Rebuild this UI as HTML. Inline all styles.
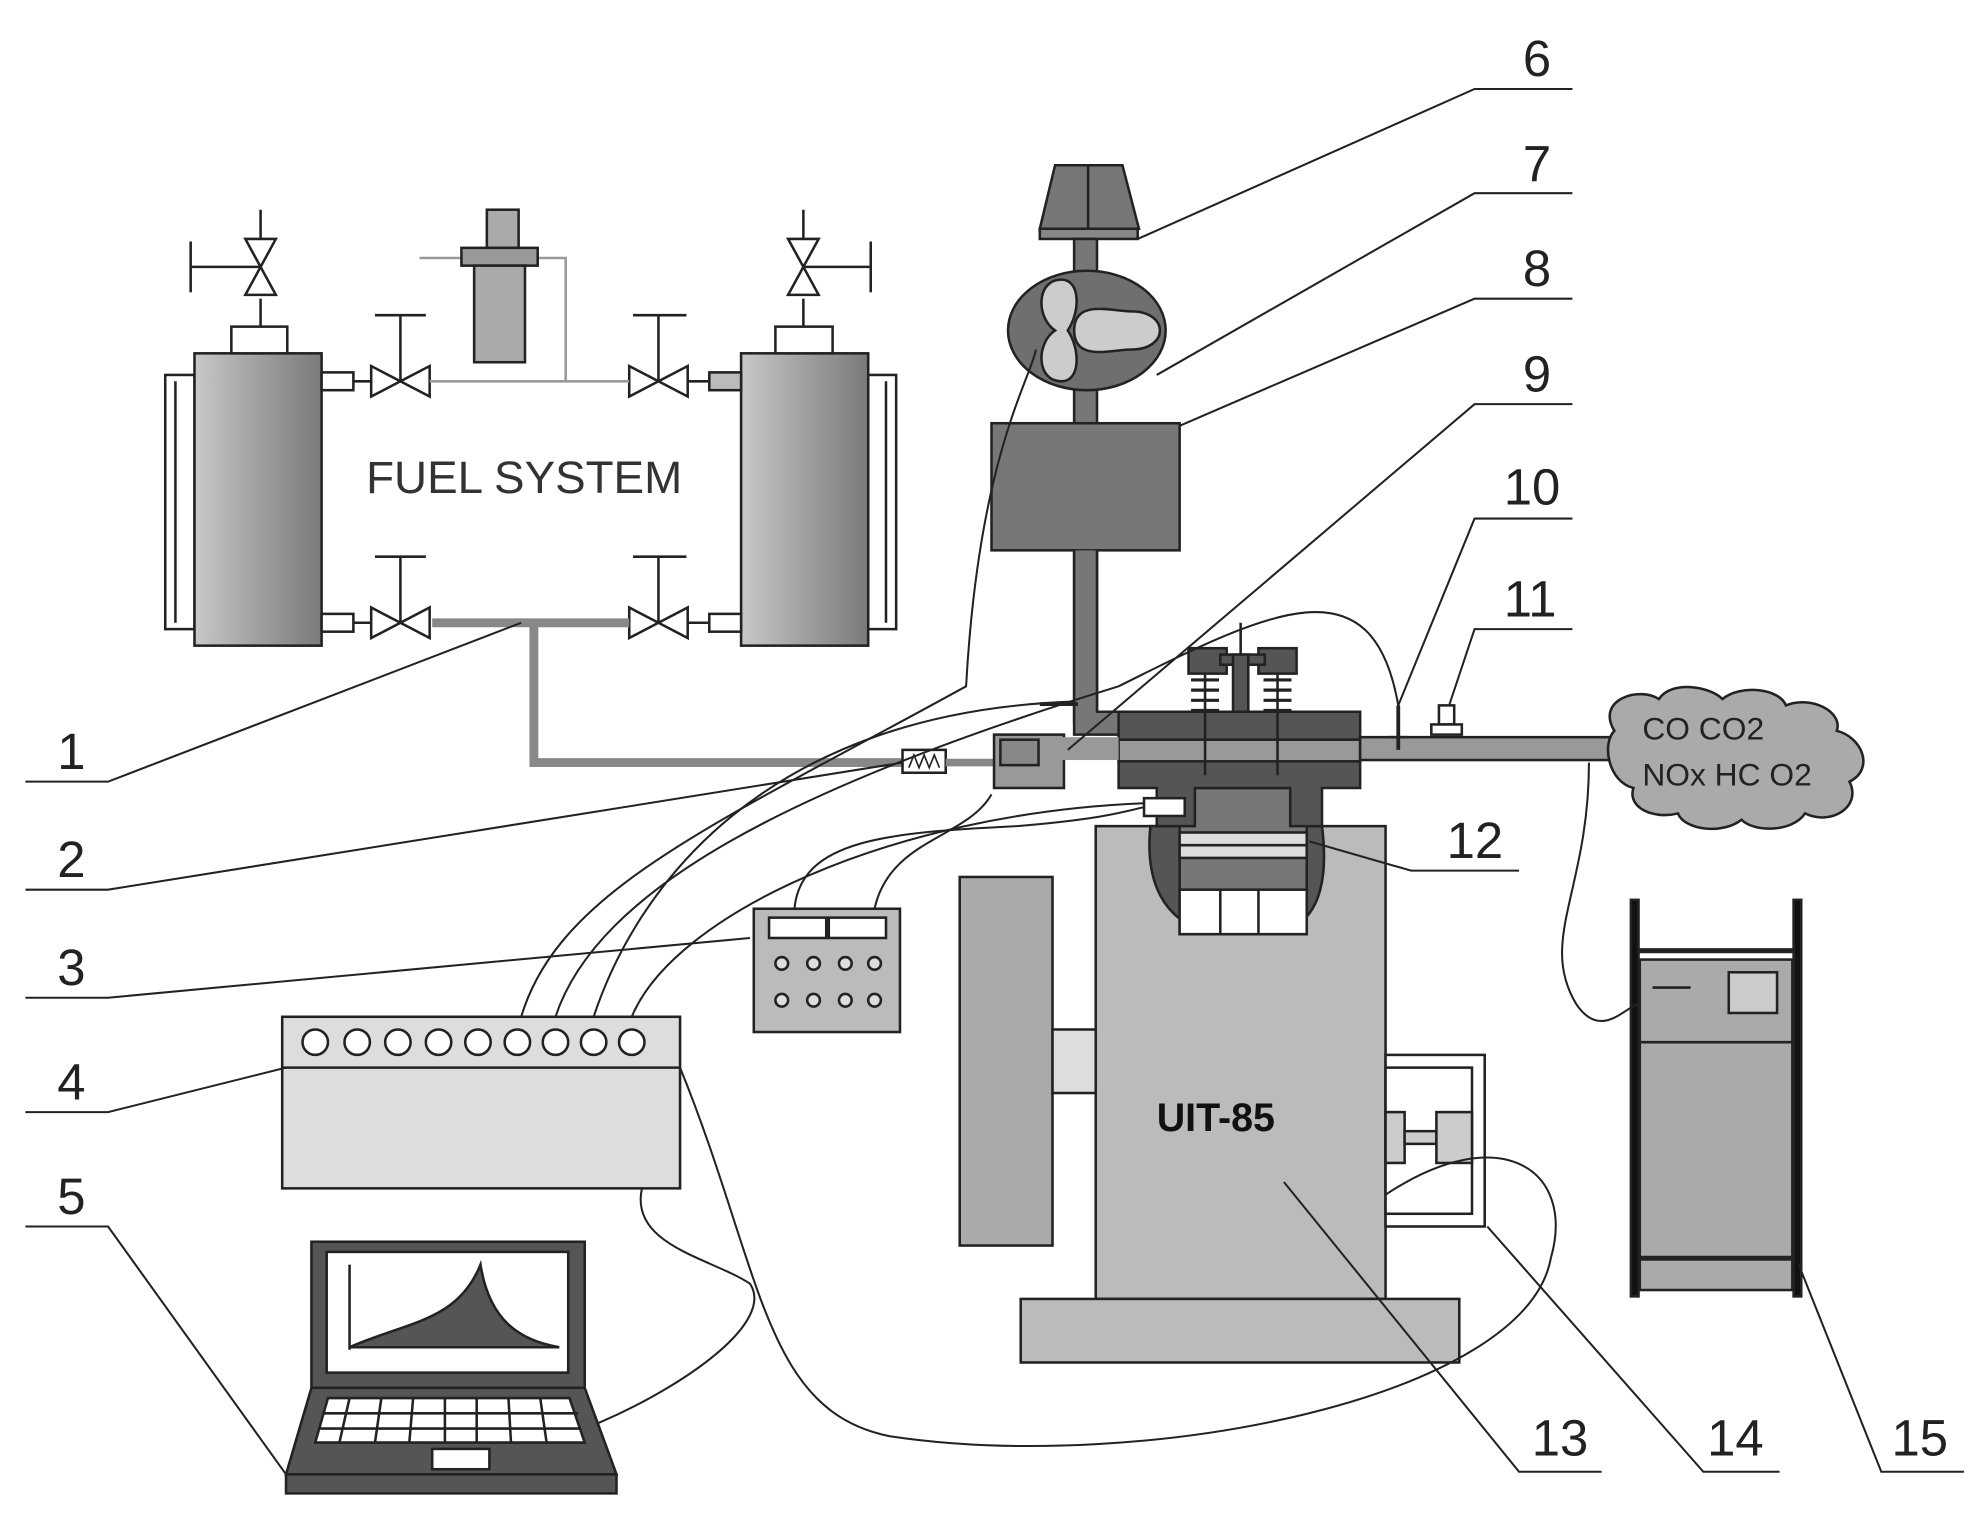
<!DOCTYPE html>
<html><head><meta charset="utf-8"><style>html,body{margin:0;padding:0;background:#fff}svg{display:block}</style></head><body>
<svg width="1983" height="1515" viewBox="0 0 1560 1192" preserveAspectRatio="none" xmlns="http://www.w3.org/2000/svg" font-family="Liberation Sans, sans-serif">
<defs>
<linearGradient id="tk" x1="0" x2="1"><stop offset="0" stop-color="#c8c8c8"/><stop offset="0.5" stop-color="#a0a0a0"/><stop offset="1" stop-color="#7a7a7a"/></linearGradient>
<linearGradient id="tk2" x1="0" x2="1"><stop offset="0" stop-color="#d8d8d8"/><stop offset="1" stop-color="#909090"/></linearGradient>
</defs>
<g stroke="#222" stroke-width="2" fill="none">
<!-- fuel system -->
<rect x="130" y="295" width="23" height="200" fill="#fff"/><line x1="138" y1="300" x2="138" y2="490"/>
<rect x="153" y="278" width="100" height="230" fill="url(#tk)"/>
<rect x="182" y="257" width="44" height="21" fill="#fff"/>
<line x1="205" y1="257" x2="205" y2="235"/>
<path d="M193 188 L217 188 L205 210 Z M193 232 L217 232 L205 210 Z" fill="#fff"/>
<line x1="205" y1="188" x2="205" y2="165"/><line x1="150" y1="210" x2="205" y2="210"/><line x1="150" y1="190" x2="150" y2="230"/>
<rect x="683" y="295" width="22" height="200" fill="#fff"/><line x1="697" y1="300" x2="697" y2="490"/>
<rect x="583" y="278" width="100" height="230" fill="url(#tk)"/>
<rect x="610" y="257" width="45" height="21" fill="#fff"/>
<line x1="632" y1="257" x2="632" y2="235"/>
<path d="M620 188 L644 188 L632 210 Z M620 232 L644 232 L632 210 Z" fill="#fff"/>
<line x1="632" y1="188" x2="632" y2="165"/><line x1="632" y1="210" x2="685" y2="210"/><line x1="685" y1="190" x2="685" y2="230"/>
<rect x="253" y="293" width="25" height="14" fill="#fff"/><rect x="253" y="483" width="25" height="14" fill="#fff"/>
<rect x="558" y="293" width="25" height="14" fill="#bbb"/><rect x="558" y="483" width="25" height="14" fill="#fff"/>
<g fill="#fff">
<path d="M292 288 L292 312 L315 300 Z M338 288 L338 312 L315 300 Z"/><line x1="315" y1="300" x2="315" y2="248"/><line x1="295" y1="248" x2="335" y2="248"/>
<path d="M495 288 L495 312 L518 300 Z M541 288 L541 312 L518 300 Z"/><line x1="518" y1="300" x2="518" y2="248"/><line x1="498" y1="248" x2="540" y2="248"/>
<path d="M292 478 L292 502 L315 490 Z M338 478 L338 502 L315 490 Z"/><line x1="315" y1="490" x2="315" y2="438"/><line x1="295" y1="438" x2="335" y2="438"/>
<path d="M495 478 L495 502 L518 490 Z M541 478 L541 502 L518 490 Z"/><line x1="518" y1="490" x2="518" y2="438"/><line x1="498" y1="438" x2="540" y2="438"/>
</g>
<line x1="278" y1="300" x2="292" y2="300"/><line x1="541" y1="300" x2="558" y2="300"/>
<line x1="278" y1="490" x2="292" y2="490"/><line x1="541" y1="490" x2="558" y2="490"/>
<path d="M338 300 L495 300 M445 300 L445 203 L423 203" stroke="#999"/><line x1="330" y1="203" x2="363" y2="203" stroke="#999"/>
<rect x="383" y="165" width="25" height="30" fill="#aaa"/>
<rect x="363" y="195" width="60" height="14" fill="#999"/>
<rect x="373" y="209" width="40" height="76" fill="#aaa"/>
<path d="M340 490 L495 490 M420 490 L420 600 L712 600" stroke="#888" stroke-width="7"/>
<rect x="710" y="590" width="34" height="18" fill="#fff"/><path d="M715 604 l4 -10 l4 10 l4 -10 l4 10 l4 -10 l4 10" stroke-width="1.3"/>
<line x1="744" y1="600" x2="782" y2="600" stroke="#888" stroke-width="6"/>
</g>
<text x="288" y="388" font-size="36" fill="#333">FUEL SYSTEM</text>
<g stroke="#222" stroke-width="2">
<!-- intake -->
<path d="M830 130 L883 130 L896 180 L818 180 Z" fill="#777"/><rect x="818" y="180" width="77" height="8" fill="#888"/>
<line x1="856" y1="130" x2="856" y2="180"/>
<rect x="845" y="188" width="18" height="380" fill="#777"/>
<ellipse cx="855" cy="260" rx="62" ry="47" fill="#6f6f6f"/>
<path d="M835 220 c-20 0 -20 30 -5 40 c-15 10 -15 40 5 40 c15 0 15 -25 5 -40 c10 -15 10 -40 -5 -40 Z" fill="#ccc"/>
<path d="M845 260 c0 -25 30 -15 45 -15 c30 0 30 30 0 30 c-15 0 -45 10 -45 -15 Z" fill="#ccc"/>
<rect x="780" y="333" width="148" height="100" fill="#777"/>
<path d="M845 433 L845 578 L882 578 L882 560 L863 560 L863 433" fill="#777"/>
<rect x="782" y="578" width="55" height="42" fill="#999"/><rect x="787" y="582" width="30" height="20" fill="#888"/>
<line x1="818" y1="554" x2="848" y2="554" stroke-width="3"/>
<!-- engine -->
<rect x="862" y="650" width="228" height="372" fill="#bbb"/>
<rect x="803" y="1022" width="345" height="50" fill="#bbb"/>
<path d="M905 650 C900 700 920 730 960 735 L1000 735 C1040 730 1045 690 1040 650 Z" fill="#555"/>
<rect x="928" y="620" width="100" height="115" fill="#777"/>
<rect x="928" y="655" width="100" height="20" fill="#ddd"/><line x1="928" y1="665" x2="1028" y2="665"/>
<rect x="928" y="700" width="100" height="35" fill="#fff"/><line x1="960" y1="700" x2="960" y2="735"/><line x1="990" y1="700" x2="990" y2="735"/>
<path d="M880 560 L1070 560 L1070 620 L1040 620 L1040 650 L1015 650 L1015 620 L940 620 L940 650 L910 650 L910 620 L880 620 Z" fill="#555"/>
<rect x="880" y="582" width="190" height="17" fill="#999"/>
<rect x="1070" y="580" width="200" height="18" fill="#999"/>
<rect x="820" y="580" width="60" height="18" fill="#999" stroke="none"/>
<rect x="935" y="510" width="30" height="20" fill="#555"/><rect x="990" y="510" width="30" height="20" fill="#555"/>
<rect x="960" y="515" width="35" height="8" fill="#555"/><rect x="970" y="515" width="12" height="45" fill="#555"/>
<line x1="976" y1="490" x2="976" y2="515"/>
<line x1="948" y1="530" x2="948" y2="610"/><line x1="1005" y1="530" x2="1005" y2="610"/>
<path d="M937 535 h22 M937 543 h22 M937 551 h22 M937 559 h22 M994 535 h22 M994 543 h22 M994 551 h22 M994 559 h22" stroke-width="2.5"/>
<rect x="900" y="628" width="32" height="14" fill="#fff"/>
<rect x="755" y="690" width="73" height="290" fill="#aaa"/>
<rect x="828" y="810" width="34" height="50" fill="#ddd"/>
<rect x="1090" y="830" width="78" height="135" fill="#fff"/><rect x="1090" y="840" width="68" height="115" fill="#fff"/>
<rect x="1090" y="875" width="15" height="40" fill="#ccc"/><rect x="1105" y="890" width="25" height="10" fill="#ccc"/><rect x="1130" y="875" width="28" height="40" fill="#ccc"/>
<line x1="1100" y1="555" x2="1100" y2="590" stroke-width="3"/><line x1="1092" y1="580" x2="1108" y2="580"/>
<rect x="1132" y="555" width="12" height="15" fill="#fff"/><rect x="1126" y="570" width="24" height="8" fill="#fff"/>
<!-- cloud -->
<path d="M1270 575 c-15 -25 20 -35 35 -25 c10 -15 40 -10 50 0 c15 -12 45 -8 50 5 c20 -8 45 5 40 20 c20 5 30 30 10 40 c10 20 -15 35 -35 25 c-10 15 -40 15 -50 5 c-15 12 -45 8 -50 -5 c-20 5 -40 -5 -35 -20 c-20 -5 -25 -35 -15 -45 Z" fill="#aaa"/>
<!-- analyzer -->
<rect x="1290" y="755" width="120" height="260" fill="#aaa"/><line x1="1290" y1="820" x2="1410" y2="820"/>
<rect x="1360" y="765" width="38" height="32" fill="#ccc"/><line x1="1300" y1="777" x2="1330" y2="777"/>
<rect x="1283" y="708" width="6" height="312" fill="#111"/><rect x="1411" y="708" width="6" height="312" fill="#111"/>
<line x1="1289" y1="748" x2="1411" y2="748" stroke-width="4"/><line x1="1289" y1="990" x2="1411" y2="990" stroke-width="4"/>
<!-- box 3 -->
<rect x="593" y="715" width="115" height="97" fill="#bbb"/>
<rect x="605" y="722" width="45" height="16" fill="#fff"/><rect x="652" y="722" width="45" height="16" fill="#fff"/>
<g fill="#ddd"><circle cx="615" cy="758" r="5"/><circle cx="640" cy="758" r="5"/><circle cx="665" cy="758" r="5"/><circle cx="688" cy="758" r="5"/><circle cx="615" cy="787" r="5"/><circle cx="640" cy="787" r="5"/><circle cx="665" cy="787" r="5"/><circle cx="688" cy="787" r="5"/></g>
<!-- box 4 -->
<rect x="222" y="800" width="313" height="135" fill="#ddd"/><line x1="222" y1="840" x2="535" y2="840"/>
<g fill="#fff"><circle cx="248" cy="820" r="10"/><circle cx="281" cy="820" r="10"/><circle cx="313" cy="820" r="10"/><circle cx="345" cy="820" r="10"/><circle cx="376" cy="820" r="10"/><circle cx="407" cy="820" r="10"/><circle cx="437" cy="820" r="10"/><circle cx="467" cy="820" r="10"/><circle cx="497" cy="820" r="10"/></g>
<!-- laptop -->
<rect x="245" y="977" width="215" height="115" fill="#555"/><rect x="257" y="985" width="190" height="95" fill="#fff"/>
<path d="M275 1060 C320 1040 360 1040 378 995 C385 1040 410 1055 440 1060 Z" fill="#555"/>
<line x1="275" y1="995" x2="275" y2="1062"/>
<path d="M245 1092 L460 1092 L485 1160 L225 1160 Z" fill="#555"/>
<rect x="225" y="1160" width="260" height="15" fill="#555"/>
<path d="M258 1100 L448 1100 L460 1135 L248 1135 Z" fill="#fff"/>
<path d="M255 1112 h200 M252 1124 h205 M275 1100 l-8 35 M300 1100 l-5 35 M325 1100 l-3 35 M350 1100 v35 M375 1100 v35 M400 1100 l2 35 M425 1100 l5 35" />
<rect x="340" y="1140" width="45" height="16" fill="#fff"/>
</g>
<text x="1292" y="582" font-size="25" fill="#222">CO CO2</text>
<text x="1292" y="618" font-size="25" fill="#222">NOx HC O2</text>
<text x="910" y="890" font-size="31" font-weight="bold" fill="#111">UIT-85</text>
<!-- cables -->
<g stroke="#222" stroke-width="1.6" fill="none">
<path d="M1090 940 C1180 880 1240 920 1220 990 C1200 1100 900 1160 700 1130 C600 1110 600 1000 535 840"/>
<path d="M505 935 C495 980 560 990 590 1010 C610 1040 540 1090 470 1120"/>
<path d="M410 800 C440 700 560 650 760 540 C770 360 810 300 815 275"/>
<path d="M437 800 C470 700 620 620 880 540 C1000 480 1080 440 1100 555"/>
<path d="M467 800 C500 700 600 560 845 552"/>
<path d="M497 800 C530 720 700 640 900 632"/>
<path d="M625 715 C630 660 700 655 800 650 C860 645 880 640 900 635"/>
<path d="M688 715 C700 660 760 660 780 625"/>
<path d="M1250 600 C1250 700 1210 740 1240 790 C1260 820 1280 790 1290 790"/>
</g>
<!-- leaders -->
<g stroke="#222" stroke-width="1.6" fill="none">
<path d="M1237 70 H1160 L895 188"/><path d="M1237 152 H1160 L910 295"/><path d="M1237 235 H1160 L928 335"/>
<path d="M1237 318 H1160 L840 590"/><path d="M1237 408 H1160 L1100 555"/><path d="M1237 495 H1160 L1140 555"/>
<path d="M1195 685 H1110 L1030 662"/>
<path d="M1260 1158 H1195 L1010 930"/><path d="M1400 1158 H1340 L1170 965"/><path d="M1545 1158 H1480 L1415 995"/>
<path d="M20 615 H85 L410 490"/><path d="M20 700 H85 L710 600"/><path d="M20 785 H85 L590 738"/><path d="M20 875 H85 L225 840"/><path d="M20 965 H85 L225 1160"/>
</g>
<g font-size="40" fill="#222">
<text x="1198" y="60">6</text><text x="1198" y="143">7</text><text x="1198" y="225">8</text><text x="1198" y="308">9</text>
<text x="1183" y="397">10</text><text x="1183" y="485">11</text><text x="1138" y="675">12</text>
<text x="1205" y="1145">13</text><text x="1343" y="1145">14</text><text x="1488" y="1145">15</text>
<text x="45" y="605">1</text><text x="45" y="690">2</text><text x="45" y="775">3</text><text x="45" y="865">4</text><text x="45" y="955">5</text>
</g>
</svg>
</body></html>
